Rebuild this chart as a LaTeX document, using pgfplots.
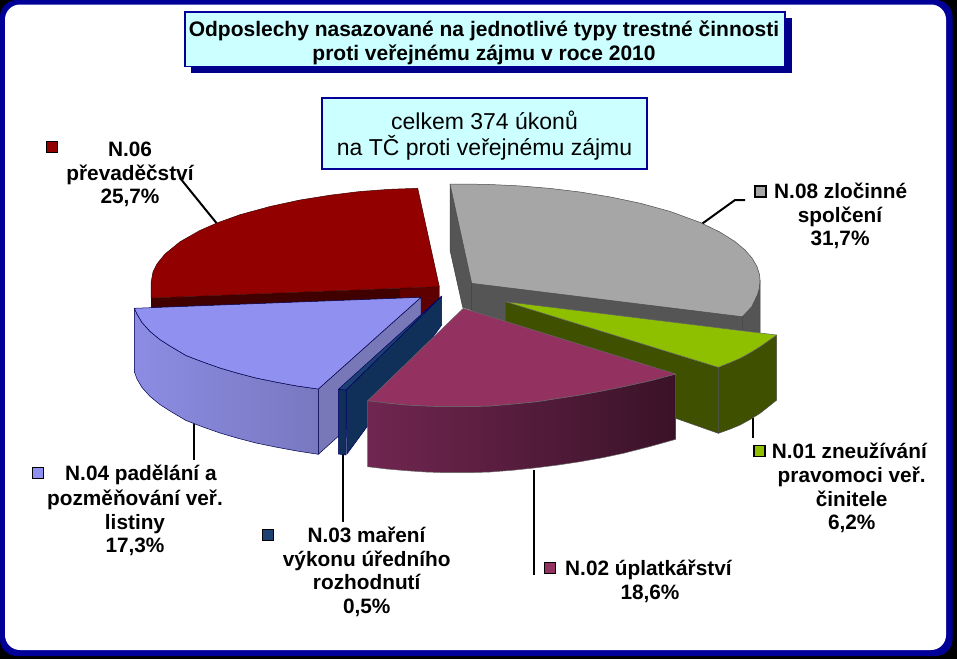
\documentclass[border=0pt]{standalone}
\usepackage{pgfplots}
\pgfplotsset{compat=1.18}
\usepackage{fontspec}
\setmainfont{Liberation Sans}
\definecolor{frameblue}{HTML}{000099}
\definecolor{boxcy}{HTML}{CCFFFF}
\definecolor{lead}{HTML}{000000}
\definecolor{grayT}{HTML}{A6A6A6}
\definecolor{grayS}{HTML}{555555}
\definecolor{redT}{HTML}{930000}
\definecolor{redS}{HTML}{400000}
\definecolor{redR}{HTML}{5E0000}
\definecolor{periT}{HTML}{9090F0}
\definecolor{periL}{HTML}{8C8CE4}
\definecolor{periD}{HTML}{7878C0}
\definecolor{periI}{HTML}{7878B8}
\definecolor{navyT}{HTML}{1C4070}
\definecolor{navyS}{HTML}{10305A}
\definecolor{greenT}{HTML}{8FC000}
\definecolor{greenS}{HTML}{3F5000}
\definecolor{marT}{HTML}{933161}
\definecolor{marL}{HTML}{702650}
\definecolor{marD}{HTML}{3A1228}
\newcommand{\lb}[3]{\node[anchor=base,inner sep=0pt,font=\fontsize{20.8}{23}\selectfont\bfseries] at (axis cs:#1,#2) {#3};}
\newcommand{\lw}[3]{\node[anchor=base west,inner sep=0pt,font=\fontsize{20.8}{23}\selectfont\bfseries] at (axis cs:#1,#2) {#3};}
\pgfplotsset{key/.style={only marks,mark=square*,mark size=5.5pt,mark options={fill=#1,draw=black,line width=1.3pt,line join=miter}}}
\begin{document}
\begin{tikzpicture}
\begin{axis}[
  scale only axis, width=957pt, height=659pt,
  xmin=0, xmax=957, ymin=0, ymax=659, y dir=reverse,
  axis lines=none, clip=false, ticks=none,
  every axis plot/.append style={line join=round, line width=0.5pt}
]
% frame
\fill[black] (axis cs:0,0) rectangle (axis cs:957,659);
\fill[frameblue,rounded corners=17pt] (axis cs:0,0) rectangle (axis cs:952.5,656);
\fill[white,rounded corners=15pt] (axis cs:5,4.5) rectangle (axis cs:946,650);
% title boxes
\fill[frameblue!90!black] (axis cs:191,18) rectangle (axis cs:792,73);
\filldraw[draw=frameblue,fill=boxcy,line width=1.5pt] (axis cs:185,12) rectangle (axis cs:785,66.5);
\filldraw[draw=frameblue,fill=boxcy,line width=2pt] (axis cs:322,98) rectangle (axis cs:647,169);
\node[anchor=base,font=\fontsize{21}{23}\selectfont\bfseries,inner sep=0pt] at (axis cs:484,36) {Odposlechy nasazované na jednotlivé typy trestné činnosti};
\node[anchor=base,font=\fontsize{21}{23}\selectfont\bfseries,inner sep=0pt] at (axis cs:484,60) {proti veřejnému zájmu v roce 2010};
\node[anchor=base,font=\fontsize{23}{25}\selectfont,inner sep=0pt] at (axis cs:484.5,129.3) {celkem 374 úkonů};
\node[anchor=base,font=\fontsize{23}{25}\selectfont,inner sep=0pt] at (axis cs:484.5,155) {na TČ proti veřejnému zájmu};
% leaders
\addplot[lead,line width=2pt] coordinates {(216.7,223.3) (180,178)};
\addplot[lead,line width=2pt] coordinates {(701.7,224) (735,200) (745,200)};
\addplot[lead,line width=2pt] coordinates {(752.7,418) (752.7,438.3)};
\addplot[lead,line width=2pt] coordinates {(534,470) (534,575)};
\addplot[lead,line width=2pt] coordinates {(342.7,454) (342.7,521.7)};
\addplot[lead,line width=2pt] coordinates {(193.5,420) (193.5,460)};
% gray N.08 sides
\addplot[fill=grayS,draw=black!75] coordinates {(450,184) (471.7,283.3) (471.7,310) (462.7,307.3) (450,250) (450,184)};
\addplot[fill=grayS,draw=black!75] coordinates {(471.7,283.3) (742.3,316.7) (742.3,350) (471.7,325) (471.7,283.3)};
\addplot[fill=grayS,draw=black!75] coordinates {(742.3,316.7) (751.7,306.7) (757.3,295) (760,280) (760,332.7) (742.3,331) (742.3,316.7)};
% gray top
\addplot[fill=grayT,draw=black!70] coordinates {(450,184) (470,184.1) (490,184.5) (520,185.9) (550,188.4) (580,192) (610,196.9) (640,203.2) (670,211.4) (700,222.4) (720,232.1) (735,241.6) (745,250) (752,258) (757,266.5) (759.5,274.5) (760,280) (759.4,288) (757.3,295) (751.7,306.7) (742.3,316.7) (471.7,283.3) (450,184)};
% red
\addplot[fill=redS,draw=none] coordinates {(151,298) (439.3,286.7) (439.3,300) (421,320) (151,320) (151,298)};
\addplot[fill=redR,draw=none] coordinates {(400,289) (439.3,286.7) (439.3,300) (421,320) (400,320) (400,289)};
\addplot[fill=redT,draw=redS] coordinates {(151,298) (151,283) (153,272) (157,263.9) (165,254) (180,241.8) (200,230.4) (217,223) (240,214.7) (270,206.5) (300,200) (330,195.2) (360,191.5) (390,189.3) (417.7,188.3) (439.3,286.7) (151,298)};
% periwinkle
\addplot[fill=periI,draw=black!70!blue] coordinates {(318.3,389) (421,297.3) (421,362) (318.3,454.3) (318.3,389)};
\addplot[left color=periL,right color=periD,draw=black!70!blue] coordinates {(134.3,308.3) (134.3,371.7) (137,379) (142,387.5) (150,396.4) (160,404.6) (170,411) (186,420.5) (203,427) (220,433) (237,438) (256,443) (277,447.3) (297,451) (318.3,454.3) (318.3,389) (297,386) (277,382.3) (256,378) (237,373) (220,368) (203,362) (186,355.5) (170,346) (160,339.6) (150,331.4) (142,322.5) (137,314) (134.3,308.3)};
\addplot[fill=periT,draw=black!70!blue] coordinates {(134.3,308.3) (421,297.3) (318.3,389) (297,386) (277,382.3) (256,378) (237,373) (220,368) (203,362) (186,355.5) (170,346) (160,339.6) (150,331.4) (142,322.5) (137,314) (134.3,308.3)};
% navy
\addplot[fill=navyS,draw=black!60!blue] coordinates {(346,390) (441.7,296) (441.7,325) (347,454) (346,390)};
\addplot[fill=navyS,draw=black!60!blue] coordinates {(338.3,389.3) (346,390) (346,455) (338.3,454) (338.3,389.3)};
\addplot[fill=navyT,draw=black!60!blue] coordinates {(338.3,389.3) (441.7,296) (346,390) (338.3,389.3)};
% green
\addplot[fill=greenS,draw=black!70] coordinates {(505.7,301.7) (718.3,367.3) (718.3,433.3) (675.7,418.3) (505.7,360) (505.7,301.7)};
\addplot[fill=greenS,draw=black!70] coordinates {(718.3,367.3) (729,363) (740,358.3) (750,352.8) (760,346.7) (776.7,335) (776.7,400) (768,407) (760,413.3) (750,419.5) (740,425) (729,429.5) (718.3,433.3) (718.3,367.3)};
\addplot[fill=greenT,draw=black!60] coordinates {(505.7,301.7) (776.7,335) (760,346.7) (750,352.8) (740,358.3) (729,363) (718.3,367.3) (505.7,301.7)};
% maroon
\addplot[left color=marL,right color=marD,draw=black!60] coordinates {(367.7,400.7) (367.7,466.7) (387,469) (406.7,470.7) (426,472) (446.7,472.7) (468,472.7) (490,472) (513,470.2) (536.7,467.7) (558,465) (580,461.7) (602,457.8) (623.3,453.3) (650,446.5) (675.7,439.3) (675.7,374) (650,380.8) (623.3,386.7) (602,391) (580,395) (558,398.4) (536.7,401.7) (513,404) (490,406) (468,406.6) (446.7,406.7) (426,406) (406.7,405) (387,403) (367.7,400.7)};
\addplot[fill=marT,draw=black!60] coordinates {(463.3,308.3) (675.7,374) (650,380.8) (623.3,386.7) (602,391) (580,395) (558,398.4) (536.7,401.7) (513,404) (490,406) (468,406.6) (446.7,406.7) (426,406) (406.7,405) (387,403) (367.7,400.7) (463.3,308.3)};
% legend keys
\addplot[key=redT] coordinates {(52,147.3)};
\addplot[key=grayT] coordinates {(760.5,191.6)};
\addplot[key=greenT] coordinates {(759.5,451.3)};
\addplot[key=marT] coordinates {(550,568)};
\addplot[key=navyT] coordinates {(268.3,534.7)};
\addplot[key=periT] coordinates {(38,473)};
% labels
\lb{130}{156}{N.06}
\lb{130}{180}{převaděčství}
\lb{130}{203.3}{25,7\%}
\lw{774}{198.5}{N.08 zločinné}
\lb{840}{222}{spolčení}
\lb{840}{245.5}{31,7\%}
\lw{771.7}{458.3}{N.01 zneužívání}
\lb{851.7}{482.7}{pravomoci veř.}
\lb{851.7}{506}{činitele}
\lb{851.7}{529.3}{6,2\%}
\lw{565}{575.5}{N.02 úplatkářství}
\lb{650}{599.5}{18,6\%}
\lw{307.3}{542.7}{N.03 maření}
\lb{366.7}{566.7}{výkonu úředního}
\lb{366.7}{589.5}{rozhodnutí}
\lb{366.7}{613}{0,5\%}
\lw{65}{480.5}{N.04 padělání a}
\lb{135}{505}{pozměňování veř.}
\lb{135}{529}{listiny}
\lb{135}{552.5}{17,3\%}
\end{axis}
\end{tikzpicture}
\end{document}
